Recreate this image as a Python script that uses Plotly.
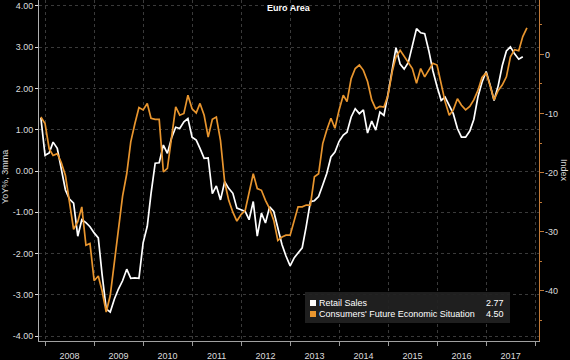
import pandas as pd
import plotly.graph_objects as go

# ---------------- data (monthly, starting Dec 2007) ----------------
start_month = "2007-12-01"

retail_sales = [
    1.29,
    0.38, 0.44, 0.70, 0.55, 0.02, -0.46, -0.68, -0.78, -1.58, -1.18, -1.25, -1.35,
    -1.50, -1.62, -2.50, -3.34, -3.42, -3.10, -2.86, -2.66, -2.38, -2.60, -2.59, -2.60,
    -1.74, -1.34, -0.55, 0.19, 0.20, 0.63, 0.43, 0.80, 1.06, 1.03, 1.19, 1.27,
    0.82, 0.75, 0.55, 0.31, 0.32, -0.55, -0.36, -0.70, -0.26, -0.42, -0.54, -0.90,
    -0.94, -0.98, -1.18, -0.74, -1.58, -1.02, -1.26, -0.87, -0.98, -1.34, -1.78, -2.06,
    -2.30, -2.10, -1.98, -1.86, -1.34, -0.74, -0.72, -0.62, -0.34, -0.06, 0.34, 0.46,
    0.72, 0.87, 0.94, 1.31, 1.51, 1.39, 1.48, 0.92, 1.21, 0.99, 1.43, 1.35,
    1.87, 2.41, 2.99, 2.59, 2.47, 2.63, 3.07, 3.45, 3.35, 3.33, 2.91, 2.43,
    2.05, 1.71, 1.79, 1.59, 1.39, 1.03, 0.82, 0.82, 0.97, 1.25, 1.80, 2.15,
    2.41, 2.07, 1.71, 2.07, 2.55, 2.91, 3.01, 2.84, 2.71, 2.77,
]

consumers_future = [
    -10.6,
    -11.7, -16.0, -17.1, -16.8, -18.3, -20.5, -24.7, -29.6, -28.3, -25.8, -32.3, -32.0,
    -38.3, -37.5, -40.0, -43.6, -40.8, -35.2, -29.8, -24.0, -20.2, -14.8, -11.7, -9.0,
    -9.4, -8.3, -10.8, -11.0, -11.0, -19.9, -19.3, -14.5, -8.9, -10.3, -10.0, -6.9,
    -9.2, -9.9, -8.3, -10.3, -14.0, -11.0, -10.6, -14.6, -21.6, -24.7, -26.7, -28.2,
    -27.1, -26.4, -23.6, -20.2, -22.7, -23.0, -24.7, -26.1, -28.1, -31.5, -30.9, -30.6,
    -30.6, -28.1, -25.8, -25.8, -25.5, -25.5, -20.7, -20.2, -15.1, -12.8, -10.8, -12.5,
    -9.4, -6.9, -8.0, -4.1, -2.4, -1.8, -2.7, -4.6, -7.7, -9.2, -8.8, -8.9,
    -6.9, -2.9, -0.4, 0.7, -0.4, -1.3, -2.4, -4.9, -2.4, -3.8, -2.7, -1.5,
    -1.8, -4.9, -8.0, -10.3, -9.4, -7.5, -8.6, -9.4, -8.8, -7.7, -6.1, -3.9,
    -3.1, -5.4, -7.7, -6.1, -5.2, -3.8, -0.4, 0.8, 0.6, 3.0, 4.5,
]

series_names = ["Retail Sales", "Consumers' Future Economic Situation"]
left_tick_values = [4, 3, 2, 1, 0, -1, -2, -3, -4]
left_tick_labels = ["4.00", "3.00", "2.00", "1.00", "0.00", "-1.00", "-2.00", "-3.00", "-4.00"]
right_tick_values = [0, -10, -20, -30, -40]
right_tick_labels = ["0", "-10", "-20", "-30", "-40"]
chart_title = "Euro Area"
left_title = "YoY%, 3mma"
right_title = "Index"

# ---------------- styling ----------------
WHITE = "#ffffff"
ORANGE = "#e8952e"
ORANGE_AXIS = "#c27a38"
GRID = "#3a3a3a"
TXT = "#dcdcdc"
FONT = "Liberation Sans"

dates_retail = pd.date_range(start_month, periods=len(retail_sales), freq="MS")
dates_cons = pd.date_range(start_month, periods=len(consumers_future), freq="MS")

fig = go.Figure()
fig.add_trace(go.Scatter(x=dates_retail, y=retail_sales, mode="lines",
                         line=dict(color=WHITE, width=1.7), name=series_names[0],
                         showlegend=False))
fig.add_trace(go.Scatter(x=dates_cons, y=consumers_future, mode="lines", yaxis="y2",
                         line=dict(color=ORANGE, width=1.7), name=series_names[1],
                         showlegend=False))

W, H = 570, 360
ml, mr, mt, mb = 39, 31, 0, 19
pw, ph = W - ml - mr, H - mt - mb


def px(x):
    return (x - ml) / pw


def py(y):
    return 1 - (y - mt) / ph


fig.update_layout(
    width=W, height=H,
    margin=dict(l=ml, r=mr, t=mt, b=mb, pad=0),
    paper_bgcolor="black", plot_bgcolor="black",
    font=dict(family=FONT, size=9, color=TXT),
    showlegend=False,
    xaxis=dict(
        type="date", range=["2007-11-17", "2018-01-30"],
        tick0="2008-01-01", dtick="M12", tickformat="%Y", ticklabelmode="period",
        showgrid=True, gridcolor=GRID, griddash="dot", gridwidth=1,
        ticks="outside", ticklen=4, tickcolor="#9a9a9a", ticklabelstandoff=2,
        showline=True, linecolor="#a0a0a0", linewidth=1,
        zeroline=False, tickfont=dict(size=9, color=TXT),
    ),
    yaxis=dict(
        range=[-4.12, 4.145], tickmode="array",
        tickvals=left_tick_values, ticktext=left_tick_labels,
        ticks="outside", ticklen=3, tickcolor="#e0e0e0",
        showline=True, linecolor="#b0b0b0", linewidth=1,
        showgrid=True, gridcolor=GRID, griddash="dot",
        zeroline=False, tickfont=dict(size=9, color=TXT),
    ),
    yaxis2=dict(
        overlaying="y", side="right", range=[-48.5, 9.2], tickmode="array",
        tickvals=right_tick_values, ticktext=right_tick_labels,
        ticks="outside", ticklen=4, tickcolor=ORANGE_AXIS, ticklabelstandoff=-1,
        showline=True, linecolor=ORANGE_AXIS, linewidth=1.2,
        showgrid=False, zeroline=False, tickfont=dict(size=9, color=TXT),
        minor=dict(dtick=5, tick0=0, ticks="outside", ticklen=2,
                   tickcolor=ORANGE_AXIS, showgrid=False),
    ),
)

annotations = [
    dict(text="<b>" + chart_title + "</b>", x=0.5, y=py(8), xref="paper", yref="paper",
         showarrow=False, xanchor="center", yanchor="middle",
         font=dict(size=9, color=WHITE, family=FONT)),
    dict(text=left_title, x=0, xshift=-34, y=py(177), xref="paper", yref="paper",
         showarrow=False, xanchor="center", yanchor="middle", textangle=-90,
         font=dict(size=9, color=TXT, family=FONT)),
    dict(text=right_title, x=1, xshift=25, y=py(170), xref="paper", yref="paper",
         showarrow=False, xanchor="center", yanchor="middle", textangle=90,
         font=dict(size=9, color=TXT, family=FONT)),
]

# custom legend box
shapes = [
    dict(type="rect", xref="paper", yref="paper", x0=px(305), x1=px(510),
         y0=py(323), y1=py(292), fillcolor="rgba(34,34,34,0.92)", line=dict(width=0),
         layer="above"),
    dict(type="rect", xref="paper", yref="paper", x0=px(310), x1=px(316),
         y0=py(306), y1=py(300), fillcolor=WHITE, line=dict(width=0), layer="above"),
    dict(type="rect", xref="paper", yref="paper", x0=px(310), x1=px(316),
         y0=py(317), y1=py(311), fillcolor=ORANGE, line=dict(width=0), layer="above"),
]
last_values = [retail_sales[-1], consumers_future[-1]]
for i, (nm, val) in enumerate(zip(series_names, last_values)):
    yc = 303 + i * 11
    annotations.append(dict(text=nm, x=px(317), y=py(yc), xref="paper", yref="paper",
                            showarrow=False, xanchor="left", yanchor="middle",
                            font=dict(size=9, color=WHITE, family=FONT)))
    annotations.append(dict(text=f"{val:.2f}", x=px(506), y=py(yc), xref="paper",
                            yref="paper", showarrow=False, xanchor="right",
                            yanchor="middle",
                            font=dict(size=9, color=WHITE, family=FONT)))

fig.update_layout(annotations=annotations, shapes=shapes)
fig.write_html(
    "out.html",
    config={"displayModeBar": False},
    post_script="document.body.style.margin='0';"
                "document.body.style.overflow='hidden';"
                "document.body.style.background='black';",
)
